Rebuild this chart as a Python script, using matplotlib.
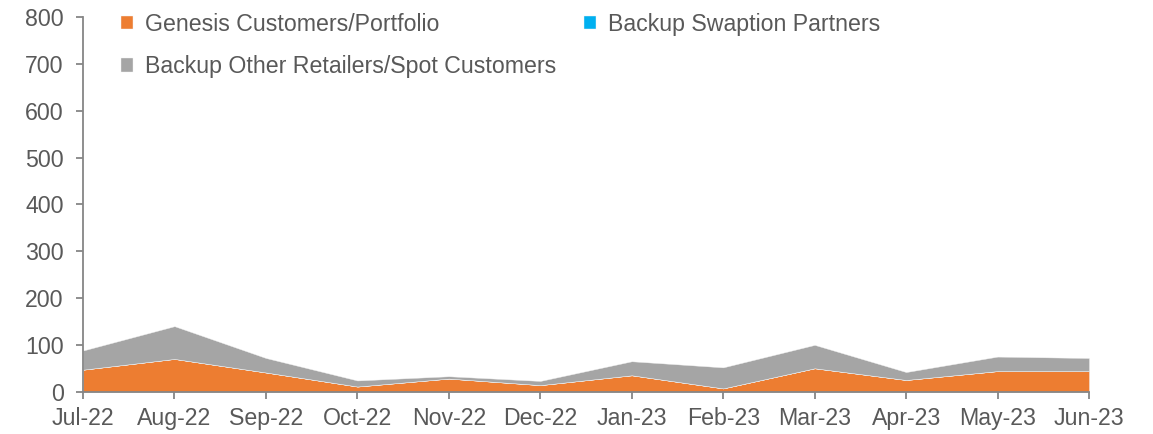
import matplotlib
matplotlib.use("Agg")
import matplotlib.pyplot as plt
import numpy as np

months = ["Jul-22", "Aug-22", "Sep-22", "Oct-22", "Nov-22", "Dec-22",
          "Jan-23", "Feb-23", "Mar-23", "Apr-23", "May-23", "Jun-23"]
genesis = [47, 70, 41, 11, 28, 14, 35, 7, 50, 25, 44, 44]
swaption = [0, 0, 0, 0, 0, 0, 0, 0, 0, 0, 0, 0]
other = [41, 70, 31, 13, 5, 9, 30, 45, 50, 17, 31, 28]

plt.rcParams["font.family"] = ["Liberation Sans", "DejaVu Sans"]
text_col = "#595959"

fig = plt.figure(figsize=(11.53, 4.34), dpi=100)
ax = fig.add_axes([0.072, 0.0975, 0.8725, 0.8627])

x = np.arange(len(months))
polys = ax.stackplot(x, genesis, swaption, other,
                     colors=["#ED7D31", "#00B0F0", "#A5A5A5"],
                     edgecolor="#f2f2f2", linewidth=0.3)

ax.set_xlim(0, len(months) - 1)
ax.set_ylim(0, 800)
ax.set_yticks(range(0, 801, 100))
ax.set_xticks(x)
ax.set_xticklabels(months)

for s in ["top", "right"]:
    ax.spines[s].set_visible(False)
for s in ["left", "bottom"]:
    ax.spines[s].set_color("#868686")
    ax.spines[s].set_linewidth(1.3)
ax.tick_params(axis="both", colors="#868686", labelcolor=text_col,
               labelsize=16.7, length=5, width=1.3)
ax.tick_params(axis="y", pad=9)
ax.tick_params(axis="x", pad=6)

labels = ["Genesis Customers/Portfolio", "Backup Swaption Partners",
          "Backup Other Retailers/Spot Customers"]
order = [0, 2, 1]
leg = fig.legend([polys[i] for i in order], [labels[i] for i in order],
                 ncol=2, frameon=False, loc="upper left",
                 bbox_to_anchor=(120.5 / 1153, 0.971), fontsize=16.7,
                 borderpad=0, borderaxespad=0,
                 handlelength=0.53, handleheight=0.53, handletextpad=0.53,
                 columnspacing=1.18, labelspacing=0.85)
for t in leg.get_texts():
    t.set_color(text_col)

fig.savefig("out.png", dpi=100)
